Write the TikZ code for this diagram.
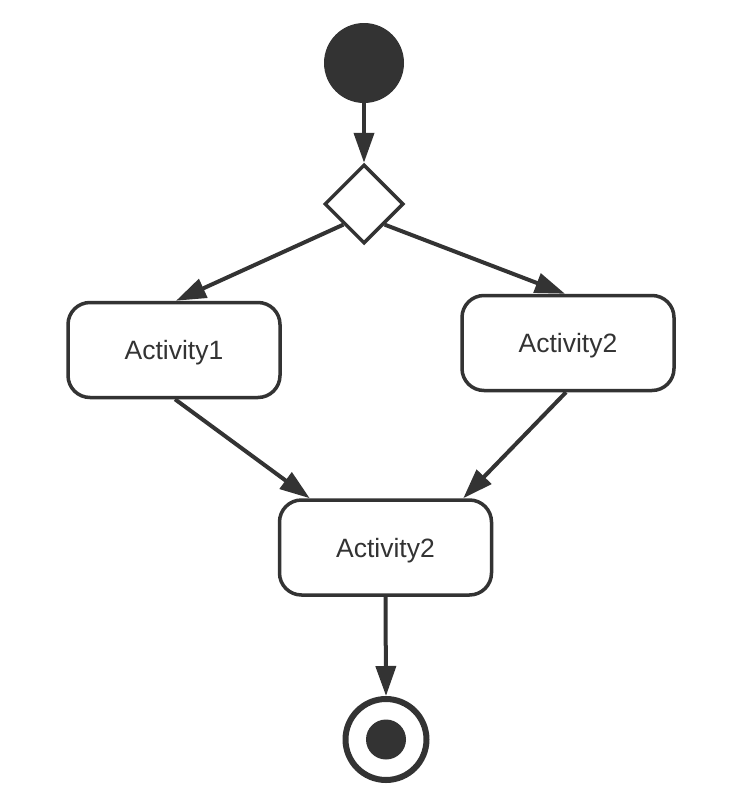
\documentclass[tikz,border=0pt]{standalone}
\usepackage{fontspec}
\setmainfont{Liberation Sans}
\usetikzlibrary{shapes.geometric,arrows.meta}
\definecolor{ink}{HTML}{333333}
\begin{document}
\begin{tikzpicture}[x=1pt,y=-1pt,
  flow/.style={draw=ink,line width=4pt,-{Triangle[length=30pt,width=20pt]},shorten >=0pt},
  actbox/.style={draw=ink,line width=3.5pt,rounded corners=22pt,fill=white,
    minimum width=212pt,minimum height=95pt,inner sep=0pt,
    text height=19pt,text depth=0pt,
    text=ink,font=\fontsize{26.5}{30}\selectfont},
  decision/.style={diamond,draw=ink,line width=3.5pt,fill=white,
    minimum width=79pt,minimum height=79pt,inner sep=0pt,aspect=1},
  initial/.style={circle,fill=ink,minimum size=80pt,inner sep=0pt},
  finalring/.style={circle,draw=ink,line width=6pt,fill=white,minimum size=81pt,inner sep=0pt},
  finaldot/.style={circle,fill=ink,minimum size=40pt,inner sep=0pt}]
\useasboundingbox (0,0) rectangle (752,806);

% states
\node[initial] (start) at (364,63) {};
\node[decision] (dec) at (364,204) {};
\node[actbox] (act1) at (174,350) {Activity1};
\node[actbox] (act2) at (568,343) {Activity2};
\node[actbox] (act3) at (385.5,547.5) {Activity2};
\node[finalring] (finish) at (386,739.5) {};
\node[finaldot] (finishdot) at (finish.center) {};

% transitions
\draw[flow] (start.south) -- (dec.north);
\draw[flow] (dec.south west) -- ([xshift=2pt]act1.north);
\draw[flow] (dec.south east) -- ([xshift=-3pt]act2.north);
\draw[flow] ([xshift=1pt]act1.south) -- ([xshift=32pt]act3.north west);
\draw[flow] ([xshift=-2pt]act2.south) -- ([xshift=-30pt]act3.north east);
\draw[flow] (act3.south) -- (finish.north);
\end{tikzpicture}
\end{document}
